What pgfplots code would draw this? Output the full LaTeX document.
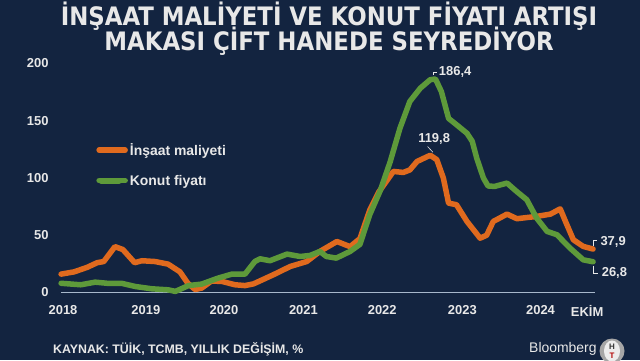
\documentclass[border=0pt]{standalone}
\usepackage{pgfplots}
\pgfplotsset{compat=1.18}
\usepackage{fontspec}
\setmainfont{Liberation Sans}
\newfontfamily\titlefont{DejaVu Sans Condensed}
\definecolor{bg}{HTML}{132440}
\definecolor{orn}{HTML}{E06A1E}
\definecolor{grn}{HTML}{5E9A3A}
\definecolor{txt}{HTML}{E8E8E8}
\definecolor{base}{HTML}{A8B8CC}
\begin{document}
\begin{tikzpicture}[x=1bp,y=1bp]
\useasboundingbox (0,0) rectangle (640,360);
\fill[bg] (0,0) rectangle (640,360);
\node[txt, font=\titlefont\bfseries\fontsize{25.5}{24}\selectfont, inner sep=0] at (329,343.5) {İNŞAAT MALİYETİ VE KONUT FİYATI ARTIŞI};
\node[txt, font=\titlefont\bfseries\fontsize{25.5}{24}\selectfont, inner sep=0] at (329,318.5) {MAKASI ÇİFT HANEDE SEYREDİYOR};
\begin{axis}[
  at={(93,59)}, anchor=south west, scale only axis,
  width=532bp, height=229bp,
  xmin=0, xmax=81, ymin=0, ymax=200,
  clip=false,
  axis line style={draw=none},
  major tick length=0pt,
  ytick={0,50,100,150,200},
  xtick={0.3,12.9,24.8,36.9,48.9,61.1,73,80.1},
  xticklabels={2018,2019,2020,2021,2022,2023,2024,EKİM},
  /pgf/number format/assume math mode=true,
  yticklabel style={font=\bfseries\fontsize{13}{15}\selectfont, text=txt, xshift=-9bp},
  xticklabel style={font=\bfseries\fontsize{13}{15}\selectfont, text=txt, yshift=-9bp},
  legend style={at={(0.066,0.66)}, anchor=north west, draw=none, fill=none, inner sep=0pt,
    text=txt, font=\bfseries\fontsize{14}{16}\selectfont, row sep=14bp},
  legend cell align=left,
  legend image code/.code={\draw[#1, line width=6bp] (2bp,0bp) -- (20bp,0bp); \path (0bp,0bp) -- (26bp,0bp);},
  every axis plot/.append style={line width=5.5bp, line join=round, line cap=round},
]
\draw[base, line width=1.2bp] (axis cs:0,0) -- (axis cs:81.3,0);
\addplot[orn] coordinates {
(0,16) (2,18) (4,22) (5.5,26) (6.5,27) (8.2,40) (9.4,37.5) (11.2,26) (12.3,27.7)
(14.3,27) (16.3,24.7) (18.1,18) (19.3,8) (20.4,2.6) (21.4,3.8) (22.9,10) (24.5,9.6)
(26.5,6.7) (28,6) (29.3,7.5) (32.3,15.4) (34.9,22.7) (37.4,27) (39.4,35.8) (42,44.5)
(44,40) (45.5,47) (47,72) (48.4,88) (50.6,105.7) (52.1,104.8) (53.1,107) (54.2,114.4)
(56.2,119.8) (57.2,116) (58.2,100) (59,78) (60.2,76.6) (61.8,62) (63.8,47.4) (64.8,50)
(65.8,62) (67.9,68.4) (69.4,64.4) (72.4,66.4) (74.5,68.4) (76,73) (76.8,62) (78,46)
(79.5,40.2) (81,37.9)
};
\addlegendentry{İnşaat maliyeti}
\addplot[grn] coordinates {
(0,8) (3,6.7) (5.2,9) (7.2,7.9) (9.2,8) (11.3,5.2) (13.8,3.2) (16.3,2.3) (17.4,0.9)
(19.4,6) (21.4,7.3) (23.9,12.5) (26,16) (28,16) (29.5,27) (30.3,29.4) (31.8,27.7)
(34.4,33.5) (36.4,31.4) (37.9,32.3) (39.4,35.8) (40.4,31.4) (41.9,30) (44,35.8)
(45.5,42) (47,68) (48.6,89) (50.1,114) (51.6,143.5) (53.1,166.8) (54.7,178.4)
(56.2,185.8) (57,186.4) (57.9,175.5) (59,152) (60.2,146.5) (61.8,139) (62.6,132)
(63.3,117) (64.3,100) (65,93) (66,92.6) (67.9,95.5) (69.4,88) (70.9,81) (72.4,65)
(74,53.3) (75.5,50.4) (77.5,38.7) (79.5,28.5) (81,26.8)
};
\addlegendentry{Konut fiyatı}
% annotations
\draw[txt, line width=0.6bp] (axis cs:56.6,190) -- (axis cs:56.6,192.5) -- (axis cs:57.2,192.5);
\node[anchor=west, inner sep=0, text=txt, font=\bfseries\fontsize{13}{15}\selectfont] at (axis cs:57.5,192.5) {186,4};
\draw[txt, line width=0.6bp] (axis cs:56.6,122.5) -- (axis cs:55.8,127.5);
\node[inner sep=0, text=txt, font=\bfseries\fontsize{13}{15}\selectfont] at (axis cs:56.8,133.6) {119,8};
\draw[txt, line width=0.6bp] (axis cs:81,41) -- (axis cs:81,45.4) -- (axis cs:81.6,45.4);
\node[anchor=west, inner sep=0, text=txt, font=\bfseries\fontsize{13}{15}\selectfont] at (axis cs:82.1,44) {37,9};
\draw[txt, line width=0.6bp] (axis cs:81,23.5) -- (axis cs:81,16.6) -- (axis cs:81.7,16.6);
\node[anchor=west, inner sep=0, text=txt, font=\bfseries\fontsize{13}{15}\selectfont] at (axis cs:82.3,16.6) {26,8};
\end{axis}
\node[anchor=west, inner sep=0, text=txt, font=\bfseries\fontsize{12.4}{14}\selectfont] at (53,11) {KAYNAK: TÜİK, TCMB, YILLIK DEĞİŞİM, \%};
\node[anchor=west, inner sep=0, text=txt, font=\fontsize{14}{16}\selectfont] at (529,11) {Bloomberg};
\begin{scope}
\clip (0,0) rectangle (640,360);
\fill[gray!70] (612,9) circle (12.5);
\fill[white!85!gray] (612,9) ellipse (8 and 10.5);
\node[inner sep=0, font=\bfseries\fontsize{8}{8}\selectfont, text=black!80] at (612,13) {H};
\node[inner sep=0, font=\bfseries\fontsize{8}{8}\selectfont, text=red!70!black] at (612,4) {T};
\end{scope}
\end{tikzpicture}
\end{document}
